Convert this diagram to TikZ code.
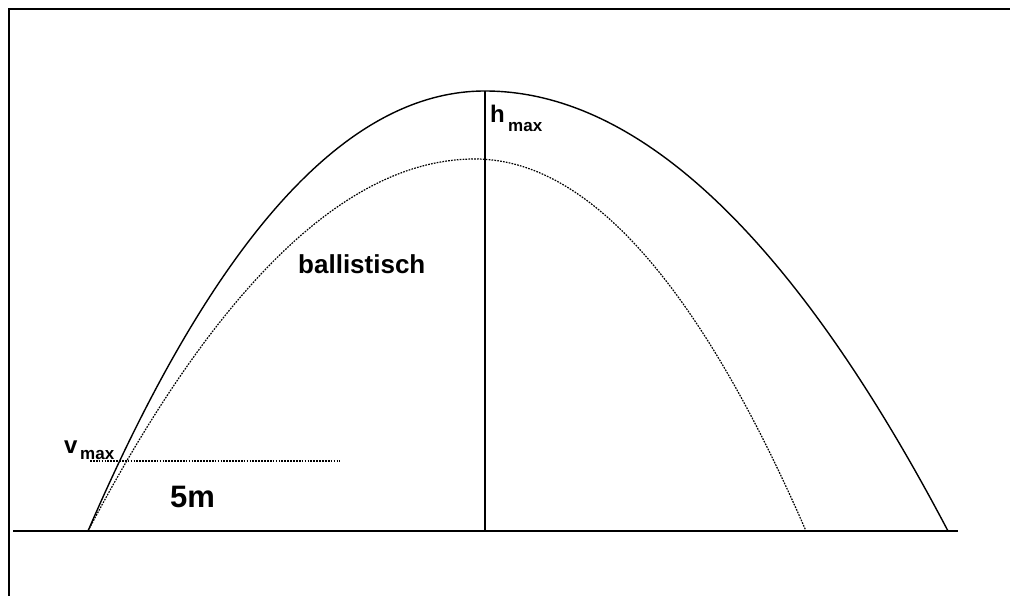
\documentclass[tikz,border=0pt]{standalone}
\usepackage{fontspec}
\setmainfont{Liberation Sans}
\usetikzlibrary{positioning}

\begin{document}
\begin{tikzpicture}[
    x=1pt, y=-1pt,
    frame/.style={line width=2pt},
    ground/.style={line width=1.5pt},
    flight/.style={line width=1.4pt},
    ballist/.style={line width=1.2pt, dash pattern=on 1.7pt off 1.2pt},
    lbl/.style={font=\bfseries\fontsize{26}{30}\selectfont, inner sep=0pt, anchor=base west},
    subtxt/.style={font=\bfseries\fontsize{17}{20}\selectfont, inner sep=0pt, anchor=base west}
]
\useasboundingbox (0,0) rectangle (1010,596);
\fill[white] (0,0) rectangle (1010,596);
\draw[frame] (1010,9) -- (9,9) -- (9,596);

\coordinate (gl) at (13,531);
\coordinate (gr) at (958,531);
\coordinate (start) at (88,531);
\coordinate (apex) at (485,91);
\coordinate (land) at (948,531);
\coordinate (dapex) at (475,159);
\coordinate (dland) at (806,531);
\coordinate (foot) at (485,531);
\coordinate (vl) at (90,461);
\coordinate (vr) at (340,461);

\draw[ground] (gl) -- (gr);
\draw[flight] (start) .. controls (218,230) and (350,91) .. (apex)
    .. controls (639,91) and (794,238) .. (land);
\draw[ballist] (start) .. controls (208,303) and (338,159) .. (dapex)
    .. controls (595,159) and (706,301) .. (dland);
\draw[line width=1.3pt] (apex) -- (foot);
\draw[ballist] (vl) -- (vr);

% labels
\node[lbl] (ball) at (298,274) {ballistisch};
\node[lbl, font=\bfseries\fontsize{31}{36}\selectfont] (dist) at (170,507) {5m};
\node[lbl, font=\bfseries\fontsize{24}{28}\selectfont] (v) at (64,453) {v};
\node[subtxt] (vsub) at (80,459) {max};
\node[lbl, font=\bfseries\fontsize{24}{28}\selectfont] (h) at (490,123) {h};
\node[subtxt] (hsub) at (508,132) {max};
\end{tikzpicture}
\end{document}
